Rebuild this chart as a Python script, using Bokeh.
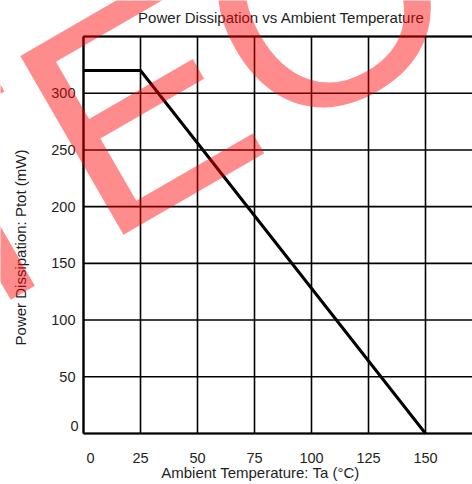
from bokeh.plotting import figure
from bokeh.models import Range1d, Label
from bokeh.core.properties import value
from bokeh.embed import file_html
from bokeh.resources import INLINE

# data
temp_c = [0, 25, 150]
power_mw = [320, 320, 0]

x_ticks = [0, 25, 50, 75, 100, 125, 150]
x_grid = [0, 25, 50, 75, 100, 125, 150, 175]
y_ticks = [0, 50, 100, 150, 200, 250, 300]
y_grid = [0, 50, 100, 150, 200, 250, 300, 350]

title_text = "Power Dissipation vs Ambient Temperature"
x_label = "Ambient Temperature: Ta (\u00b0C)"
y_label = "Power Dissipation: Ptot (mW)"
watermark = "TEO"

FONT = "Liberation Sans"
TXT = "#1e1e1e"

W, H = 472, 484
# pixel geometry of the plot area inside the canvas
left_px, top_px, bottom_px = 83, 36, 433
px_per_x = (425 - 83) / 150.0
px_per_y = (bottom_px - top_px) / float(y_grid[-1])

x0 = -left_px / px_per_x
x1 = (W - left_px) / px_per_x
y0 = -(H - bottom_px) / px_per_y
y1 = y_grid[-1] + top_px / px_per_y

p = figure(width=W, height=H, output_backend="svg", toolbar_location=None,
           x_range=Range1d(x0, x1), y_range=Range1d(y0, y1),
           x_axis_type=None, y_axis_type=None,
           min_border=0, min_border_left=0, min_border_right=0,
           min_border_top=0, min_border_bottom=0)
p.outline_line_color = None
p.background_fill_color = "white"
p.border_fill_color = "white"

# grid (plot area box included)
p.segment(x0=x_grid, y0=[y_grid[0]] * len(x_grid), x1=x_grid, y1=[y_grid[-1]] * len(x_grid),
          line_color="black", line_width=1.6)
p.segment(x0=[x_grid[0]] * len(y_grid), y0=y_grid, x1=[x_grid[-1]] * len(y_grid), y1=y_grid,
          line_color="black", line_width=1.6)
# axis lines and top border slightly heavier
p.segment(x0=[x_grid[0], x_grid[0], x_grid[0]], y0=[y_grid[0], y_grid[0], y_grid[-1]],
          x1=[x_grid[0], x_grid[-1], x_grid[-1]], y1=[y_grid[-1], y_grid[0], y_grid[-1]],
          line_color="black", line_width=2.2)

# data
p.line(temp_c, power_mw, line_color="black", line_width=3)

# tick labels
p.text(x=x_ticks[1:], y=[0] * (len(x_ticks) - 1), text=[str(t) for t in x_ticks[1:]],
       text_align="center", text_baseline="middle", y_offset=24,
       text_font=value(FONT), text_font_size="14.5px", text_color=TXT)
p.text(x=[x_ticks[0]], y=[0], text=[str(x_ticks[0])],
       text_align="center", text_baseline="middle", x_offset=7, y_offset=24,
       text_font=value(FONT), text_font_size="14.5px", text_color=TXT)
p.text(x=[0] * (len(y_ticks) - 1), y=y_ticks[1:], text=[str(t) for t in y_ticks[1:]],
       text_align="right", text_baseline="middle", x_offset=-8,
       text_font=value(FONT), text_font_size="14.5px", text_color=TXT)
p.text(x=[0], y=[y_ticks[0]], text=[str(y_ticks[0])],
       text_align="right", text_baseline="middle", x_offset=-5, y_offset=-7.5,
       text_font=value(FONT), text_font_size="14.5px", text_color=TXT)

# title and axis titles
p.add_layout(Label(x=281, y=17, x_units="canvas", y_units="canvas", text=title_text,
                   text_align="center", text_baseline="middle", text_font=FONT,
                   text_font_size="15px", text_color=TXT))
p.add_layout(Label(x=260, y=472, x_units="canvas", y_units="canvas", text=x_label,
                   text_align="center", text_baseline="middle", text_font=FONT,
                   text_font_size="15px", text_color=TXT))
p.add_layout(Label(x=20, y=247, x_units="canvas", y_units="canvas", text=y_label,
                   angle=90, angle_units="deg",
                   text_align="center", text_baseline="middle", text_font=FONT,
                   text_font_size="15px", text_color=TXT))

# red watermark over the chart (only part of it falls inside the picture)
p.add_layout(Label(x=-109, y=248, x_units="canvas", y_units="canvas", text=watermark,
                   angle=30, angle_units="deg", level="overlay",
                   text_align="left", text_baseline="alphabetic", text_font=FONT,
                   text_font_size="300px", text_color="#ff0000", text_alpha=0.45))

open("out.html", "w").write(file_html(p, INLINE))
